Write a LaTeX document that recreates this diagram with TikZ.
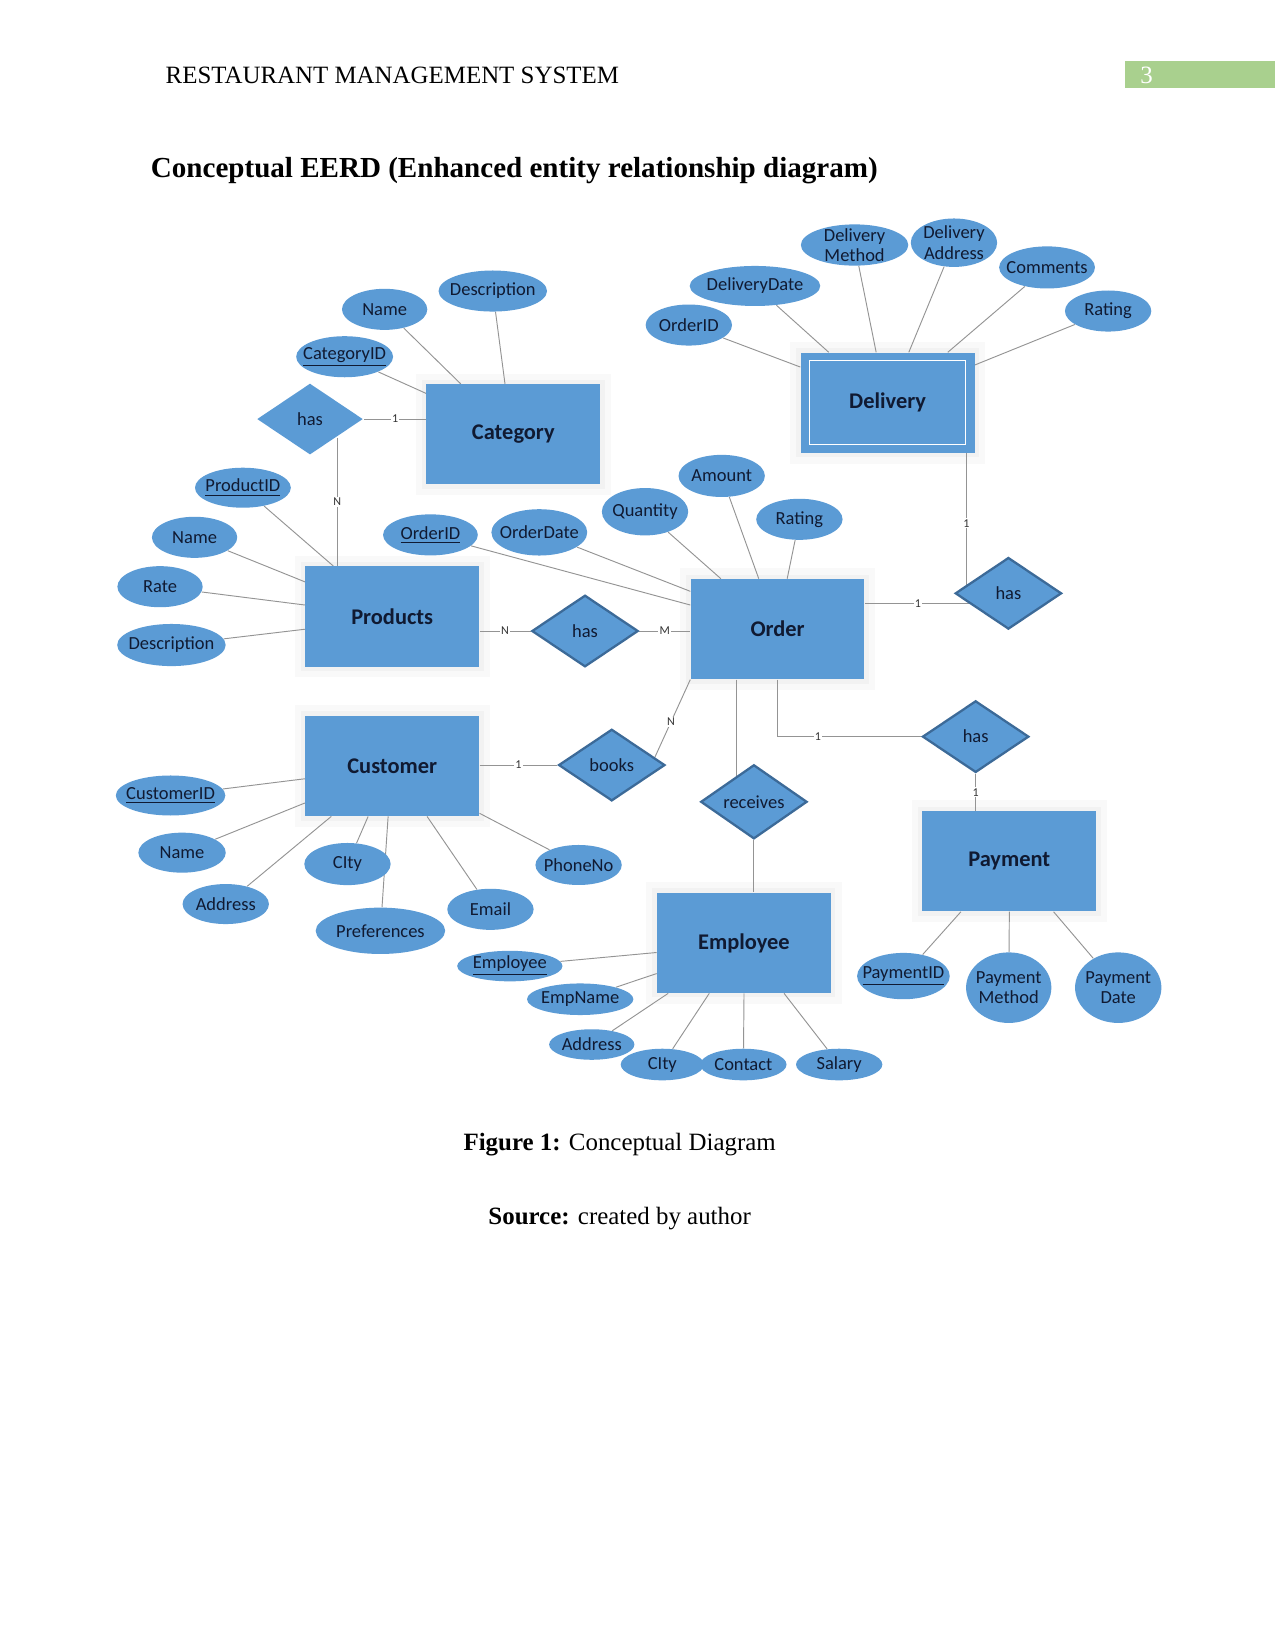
\documentclass[tikz,border=0pt]{standalone}
\usepackage{fontspec}
\setmainfont{Liberation Serif}
\newfontfamily\erfont{Carlito}
\usetikzlibrary{shapes.geometric,positioning,backgrounds}

\definecolor{erblue}{RGB}{91,155,213}
\definecolor{erdark}{RGB}{60,106,152}
\definecolor{erink}{RGB}{16,26,50}
\definecolor{pagegreen}{RGB}{169,208,142}
\newcommand{\erpx}{0.5073pt}

\pgfdeclarelayer{halo}
\pgfsetlayers{halo,background,main}

\begin{document}
\begin{tikzpicture}[x=0.5073pt, y=-0.5073pt,
  entity/.style={rectangle, fill=erblue, text=erink, inner sep=0pt,
    minimum width=165*\erpx, minimum height=95*\erpx,
    font=\erfont\bfseries\fontsize{10.8}{12}\selectfont},
  attr/.style 2 args={ellipse, fill=erblue, text=erink, inner xsep=-9pt, inner ysep=-1pt, align=center,
    minimum width=#1*\erpx, minimum height=#2*\erpx,
    font=\erfont\fontsize{8.9}{9.8}\selectfont},
  rel/.style={diamond, fill=erblue, draw=erdark, line width=1.1pt, text=erink, inner sep=0pt,
    minimum width=101*\erpx, minimum height=68*\erpx,
    font=\erfont\fontsize{8.9}{9.8}\selectfont},
  link/.style={draw=black!42, line width=0.45pt},
  card/.style={font=\erfont\fontsize{5.8}{6}\selectfont, text=black!80, fill=white, inner sep=0.6pt}]

\useasboundingbox (0,0) rectangle (1211,1568);
\begin{pgfonlayer}{halo}
  \fill[white] (0,0) rectangle (1211,1568);
\end{pgfonlayer}

% Page head and title
\node[font=\fontsize{12}{14}\selectfont, anchor=west, inner sep=0pt] (runhead) at (157,71.5) {RESTAURANT MANAGEMENT SYSTEM};
\fill[pagegreen] (1068,58) rectangle (1211,84);
\node[font=\fontsize{12}{14}\selectfont, text=white, inner sep=0pt] (pagenum) at (1089,71.5) {3};
\node[font=\bfseries\fontsize{14}{16}\selectfont, anchor=west, inner sep=0pt] (title) at (143,162) {Conceptual EERD (Enhanced entity relationship diagram)};

% Entities
\node[entity] (cat) at (487.5,412.5) {Category};
\node[entity] (del) at (843,382.5) {Delivery};
\node[entity] (prod) at (372.5,585.5) {Products};
\node[entity] (ord) at (738.5,597.5) {Order};
\node[entity] (cust) at (372.5,727.5) {Customer};
\node[entity] (emp) at (706.5,895.5) {Employee};
\node[entity] (pay) at (958.5,818) {Payment};
\draw[white, line width=0.6pt] ([shift={(9,8)}]del.north west) rectangle ([shift={(-9,-8)}]del.south east);

% Relationships
\node[rel, draw=none] (hascat) at (294.4,398) {has};
\node[rel] (hasord) at (555.6,599.3) {has};
\node[rel] (hasdel) at (957.7,563.5) {has};
\node[rel] (haspay) at (926.6,699.6) {has};
\node[rel] (books) at (581,726.6) {books};
\node[rel] (rec) at (716,761.5) {receives};

% Category attributes
\node[attr={81}{39}] (catname) at (365.3,293.8) {Name};
\node[attr={103}{39}] (catdesc) at (468,276.4) {Description};
\node[attr={92}{39}] (catid) at (327.3,338.8) {\underline{CategoryID}};

% Delivery attributes
\node[attr={102}{39}] (delmeth) at (811.6,232.7) {Delivery\\Method};
\node[attr={82}{46}] (deladdr) at (906,230.5) {Delivery\\Address};
\node[attr={124}{38}] (deldate) at (717,271.6) {DeliveryDate};
\node[attr={91}{40}] (delcomm) at (994.4,254) {Comments};
\node[attr={82}{39}] (delrate) at (1052.4,295.4) {Rating};
\node[attr={82}{39}] (delord) at (654.2,308.7) {OrderID};

% Products attributes
\node[attr={91}{38}] (prodid) at (230.7,463.2) {\underline{ProductID}};
\node[attr={81}{39}] (prodname) at (184.8,510.3) {Name};
\node[attr={81}{39}] (prodrate) at (152,557.2) {Rate};
\node[attr={103}{40}] (proddesc) at (162.8,612.6) {Description};

% Order attributes
\node[attr={90}{39}] (ordid) at (408.8,508) {\underline{OrderID}};
\node[attr={91}{44}] (orddate) at (512.2,505.6) {OrderDate};
\node[attr={82}{45}] (ordqty) at (612.6,486) {Quantity};
\node[attr={82}{40}] (ordamt) at (685.4,452) {Amount};
\node[attr={82}{39}] (ordrate) at (759.2,493.2) {Rating};

% Customer attributes
\node[attr={104}{38}] (custid) at (162,755.5) {\underline{CustomerID}};
\node[attr={83}{38}] (custname) at (172.9,809.8) {Name};
\node[attr={82}{38}] (custaddr) at (214.4,858.6) {Address};
\node[attr={82}{40}] (custcity) at (330,820.6) {CIty};
\node[attr={123}{44}] (custpref) at (361.3,884) {Preferences};
\node[attr={82}{39}] (custmail) at (465.8,863.6) {Email};
\node[attr={82}{38}] (custphone) at (549.5,821.5) {PhoneNo};

% Employee attributes
\node[attr={100}{29}] (empid) at (484.2,917.5) {\underline{Employee}};
\node[attr={101}{30}] (empname) at (551,949) {EmpName};
\node[attr={81}{29}] (empaddr) at (562,992) {Address};
\node[attr={79}{30}] (empcity) at (629,1011) {CIty};
\node[attr={82}{30}] (empcont) at (706,1011) {Contact};
\node[attr={82}{30}] (empsal) at (797,1011) {Salary};

% Payment attributes
\node[attr={88}{44}] (payid) at (858,927) {\underline{PaymentID}};
\node[attr={81}{67}] (paymeth) at (958,938) {Payment\\Method};
\node[attr={82}{67}] (paydate) at (1062,938) {Payment\\Date};

% Soft glow round the entities
\begin{pgfonlayer}{halo}
  \foreach \e in {cat,del,prod,ord,cust,emp,pay} {
    \draw[black!2.5, line width=10pt] (\e.north west) rectangle (\e.south east);
    \draw[black!5, line width=4pt] (\e.north west) rectangle (\e.south east);
  }
\end{pgfonlayer}

% Connectors
\begin{pgfonlayer}{background}
  \draw[link] (catname) -- ([shift={(33,0)}]cat.north west);
  \draw[link] (catdesc) -- ([shift={(75,0)}]cat.north west);
  \draw[link] (catid) -- ([shift={(0,9)}]cat.north west);

  \draw[link] (delord) -- ([shift={(0,14)}]del.north west);
  \draw[link] (deldate) -- ([shift={(27,0)}]del.north west);
  \draw[link] (delmeth) -- ([shift={(72,0)}]del.north west);
  \draw[link] (deladdr) -- ([shift={(103,0)}]del.north west);
  \draw[link] (delcomm) -- ([shift={(140,0)}]del.north west);
  \draw[link] (delrate) -- ([shift={(0,12)}]del.north east);

  \draw[link] (prodid) -- ([shift={(27,0)}]prod.north west);
  \draw[link] (prodname) -- ([shift={(0,15)}]prod.north west);
  \draw[link] (prodrate) -- ([shift={(0,37)}]prod.north west);
  \draw[link] (proddesc) -- ([shift={(0,60)}]prod.north west);

  \draw[link] (ordid) -- ([shift={(0,25)}]ord.north west);
  \draw[link] (orddate) -- ([shift={(0,12)}]ord.north west);
  \draw[link] (ordqty) -- ([shift={(29,0)}]ord.north west);
  \draw[link] (ordamt) -- ([shift={(65,0)}]ord.north west);
  \draw[link] (ordrate) -- ([shift={(92,0)}]ord.north west);

  \draw[link] (custid) -- ([shift={(0,60)}]cust.north west);
  \draw[link] (custname) -- ([shift={(0,83)}]cust.north west);
  \draw[link] (custaddr) -- ([shift={(25,0)}]cust.south west);
  \draw[link] (custcity) -- ([shift={(60,0)}]cust.south west);
  \draw[link] (custpref) -- ([shift={(79,0)}]cust.south west);
  \draw[link] (custmail) -- ([shift={(116,0)}]cust.south west);
  \draw[link] (custphone) -- ([shift={(0,-3)}]cust.south east);

  \draw[link] (empid) -- ([shift={(0,57)}]emp.north west);
  \draw[link] (empname) -- ([shift={(0,77)}]emp.north west);
  \draw[link] (empaddr) -- ([shift={(11,0)}]emp.south west);
  \draw[link] (empcity) -- ([shift={(50,0)}]emp.south west);
  \draw[link] (empcont) -- ([shift={(83,0)}]emp.south west);
  \draw[link] (empsal) -- ([shift={(121,0)}]emp.south west);

  \draw[link] (payid) -- ([shift={(37,0)}]pay.south west);
  \draw[link] (paymeth) -- ([shift={(83,0)}]pay.south west);
  \draw[link] (paydate) -- ([shift={(125,0)}]pay.south west);

  % relationship lines
  \draw[link] (hascat) -- node[card]{1} (hascat -| cat.west);
  \draw[link] (hascat.south east) -- node[card]{N} (hascat.south east |- prod.north);
  \draw[link] (hasord.west -| prod.east) -- node[card]{N} (hasord);
  \draw[link] (hasord) -- node[card]{M} (hasord.east -| ord.west);

  \coordinate (ordhas) at ([shift={(0,-24)}]ord.east);
  \draw[link] (ordhas) -- node[card, pos=0.37]{1} (ordhas -| hasdel);
  \coordinate (delhas) at ([shift={(-8,0)}]del.south east);
  \draw[link] (delhas) -- node[card]{1} (delhas |- hasdel);

  \draw[link] (ord.south) |- node[card, pos=0.64]{1} (haspay);
  \draw[link] (haspay) -- node[card]{1} (haspay |- pay.north);

  \draw[link] (books -| cust.east) -- node[card]{1} (books);
  \draw[link] (ord.south west) -- node[card]{N} ([shift={(38,-1)}]books.center);

  \coordinate (ordrec) at ([shift={(-39.5,0)}]ord.south);
  \draw[link] (ordrec) -- (ordrec |- rec);
  \draw[link] (rec) -- (rec |- emp.north);
\end{pgfonlayer}

% Caption
\node[font=\fontsize{12}{14}\selectfont] (figcap) at (588.5,1087) {\textbf{Figure 1:} Conceptual Diagram};
\node[font=\fontsize{12}{14}\selectfont] (figsrc) at (588.5,1157) {\textbf{Source:} created by author};

\end{tikzpicture}
\end{document}
